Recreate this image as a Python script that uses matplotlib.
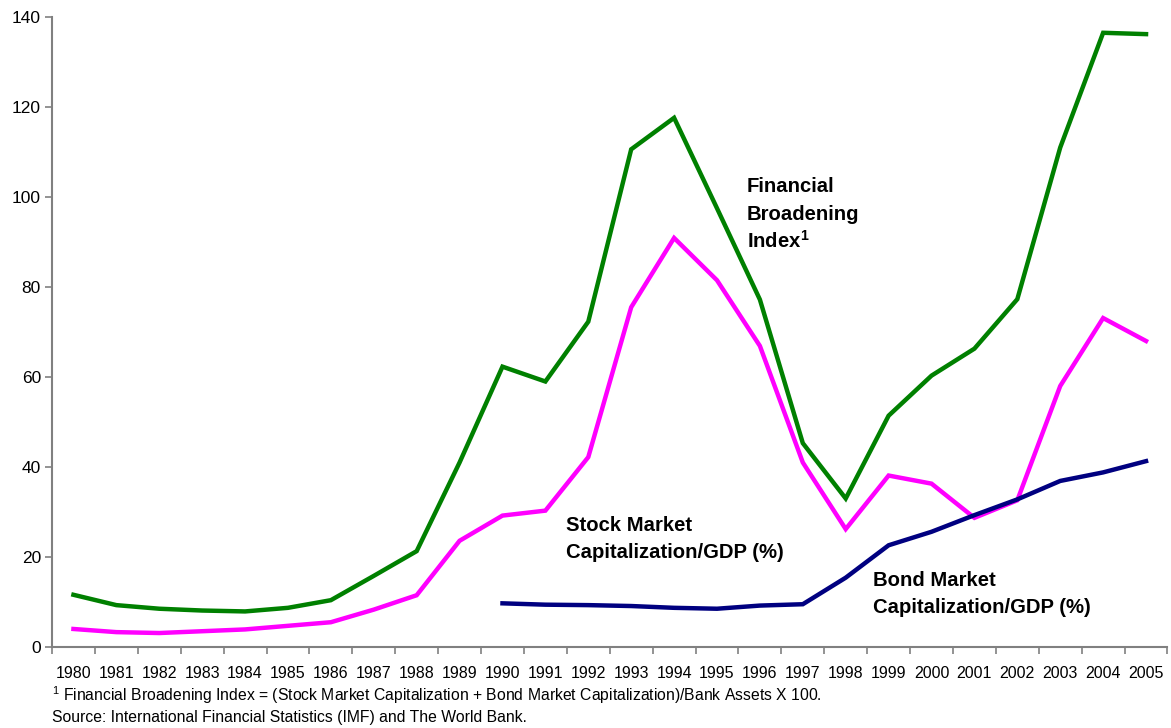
import numpy as np
import matplotlib
matplotlib.use("Agg")
from matplotlib import pyplot as plt
from matplotlib.ticker import FixedLocator

plt.rcParams['font.family'] = ['Liberation Sans', 'DejaVu Sans']
plt.rcParams['mathtext.fontset'] = 'custom'
plt.rcParams['mathtext.rm'] = 'Liberation Sans'
plt.rcParams['mathtext.bf'] = 'Liberation Sans:bold'

# 数据
years = [str(y) for y in range(1980, 2006)]
fbi = [11.6, 9.3, 8.5, 8.1, 7.9, 8.7, 10.4, 15.8, 21.3, 41.0, 62.3, 59.0, 72.3,
       110.6, 117.6, 97.5, 77.2, 45.3, 33.0, 51.4, 60.3, 66.3, 77.3, 111.0,
       136.5, 136.2]
stock = [4.0, 3.3, 3.1, 3.5, 3.9, 4.7, 5.5, 8.3, 11.5, 23.6, 29.2, 30.3, 42.2,
         75.5, 90.9, 81.5, 66.9, 41.0, 26.2, 38.1, 36.3, 28.7, 32.6, 58.0,
         73.1, 68.0]
bond_years = [str(y) for y in range(1990, 2006)]
bond = [9.7, 9.4, 9.3, 9.1, 8.7, 8.5, 9.2, 9.5, 15.4, 22.6, 25.6, 29.3, 32.8,
        36.9, 38.8, 41.3]

x = np.arange(len(years))
xb = np.array([years.index(y) for y in bond_years])

W, H = 1171, 728
fig = plt.figure(figsize=(W / 100, H / 100), dpi=100)
ax = fig.add_axes([0.0444, 0.1113, 0.9526, 0.8653])

ax.plot(x, fbi, color='#008000', lw=3.2, solid_joinstyle='miter')
ax.plot(x, stock, color='#FF00FF', lw=3.2, solid_joinstyle='miter')
ax.plot(xb, bond, color='#000080', lw=3.2, solid_joinstyle='miter')

ax.set_xlim(-0.5, len(years) - 0.5)
ax.set_ylim(0, 140)
ax.set_yticks(np.arange(0, 141, 20))

# x轴刻度在类别边界, 标签在类别中心
ax.xaxis.set_major_locator(FixedLocator(np.arange(-0.5, len(years), 1.0)))
ax.xaxis.set_major_formatter(plt.NullFormatter())
ax.set_xticks(x, minor=True)
ax.set_xticklabels(years, minor=True, fontsize=11.5)
ax.tick_params(axis='x', which='major', length=5, width=1.2, color='#808080', direction='out')
ax.tick_params(axis='x', which='minor', length=0, pad=14)
ax.tick_params(axis='y', length=5, width=1.2, color='#808080', labelsize=12.5, pad=3)

for s in ['top', 'right']:
    ax.spines[s].set_visible(False)
for s in ['left', 'bottom']:
    ax.spines[s].set_color('#808080')
    ax.spines[s].set_linewidth(1.5)


def label(px, lines, baselines):
    # 逐行放置标注文字 (像素坐标 -> 画布比例)
    for txt, py in zip(lines, baselines):
        fig.text(px / W, 1 - py / H, txt, fontsize=14.6, fontweight='bold',
                 va='baseline', ha='left')


label(747, ['Financial', 'Broadening', 'Index$^{\\mathbf{1}}$'], [192, 220, 248])
label(566, ['Stock Market', 'Capitalization/GDP (%)'], [531, 558])
label(873, ['Bond Market', 'Capitalization/GDP (%)'], [586, 613])

fig.text(52 / W, 1 - 701 / H,
         '$^1$ Financial Broadening Index = (Stock Market Capitalization + Bond Market Capitalization)/Bank Assets X 100.',
         fontsize=11.3, va='baseline', ha='left')
fig.text(52 / W, 1 - 722 / H,
         'Source: International Financial Statistics (IMF) and The World Bank.',
         fontsize=11.3, va='baseline', ha='left')

fig.savefig('out.png', dpi=100)
